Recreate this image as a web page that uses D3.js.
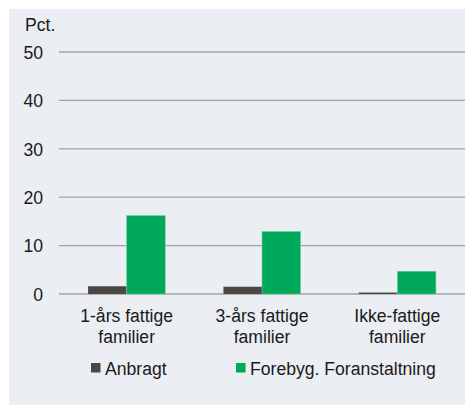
<!DOCTYPE html>
<html><head><meta charset="utf-8">
<script src="https://cdn.jsdelivr.net/npm/d3@7"></script>
<style>body{margin:0;background:#fff}svg{display:block}</style>
</head><body>
<script>
const categories = [["1-års fattige","familier"],["3-års fattige","familier"],["Ikke-fattige","familier"]];
const seriesNames = ["Anbragt","Forebyg. Foranstaltning"];
const anbragt = [1.6, 1.5, 0.3];
const forebyg = [16.2, 12.9, 4.7];
const yTicks = [0,10,20,30,40,50];
const colors = ["#4b4745","#00a85a"];

const W=465,H=405;
const FS=17.6;
const svg=d3.select("body").append("svg").attr("width",W).attr("height",H);
svg.append("rect").attr("x",9).attr("y",9).attr("width",W-9).attr("height",H-9).attr("fill","#ebeef2");

const font="Liberation Sans, Arial, Helvetica, sans-serif";
const x0=d3.scaleBand().domain(d3.range(3)).range([59,465]).paddingInner(0.43).paddingOuter(0.215);
const x1=d3.scaleBand().domain([0,1]).range([0,x0.bandwidth()]);
const y=d3.scaleLinear().domain([0,50]).range([294,52]);

svg.append("g").selectAll("line").data(yTicks).join("line")
  .attr("x1",59).attr("x2",465).attr("y1",d=>y(d)).attr("y2",d=>y(d))
  .attr("stroke","#a3a3a3").attr("stroke-width",1.3);

const yAxis=d3.axisLeft(y).tickValues(yTicks).tickSize(0).tickPadding(0);
const ga=svg.append("g").attr("transform","translate(43,0)").call(yAxis);
ga.select(".domain").remove();
ga.selectAll("text").attr("font-family",font).attr("font-size",FS).attr("fill","#1a1a1a").attr("dy","0.36em");

svg.append("text").attr("x",25).attr("y",31).text("Pct.")
  .attr("font-family",font).attr("font-size",FS).attr("fill","#1a1a1a");

const series=[anbragt,forebyg];
series.forEach((vals,si)=>{
  svg.append("g").selectAll("rect").data(vals).join("rect")
    .attr("x",(d,i)=>x0(i)+x1(si))
    .attr("width",x1.bandwidth())
    .attr("y",d=>y(d))
    .attr("height",d=>y(0)-y(d))
    .attr("fill",colors[si])
    .attr("stroke",si===1?"#6fd0a0":"none").attr("stroke-width",si===1?0.6:0);
});

const cl=svg.append("g");
categories.forEach((c,i)=>{
  const t=cl.append("text").attr("text-anchor","middle")
    .attr("font-family",font).attr("font-size",FS).attr("fill","#1a1a1a");
  c.forEach((line,j)=>t.append("tspan").attr("x",x0(i)+x0.bandwidth()/2).attr("y",321.5+j*21).text(line));
});

const legX=[91,236];
seriesNames.forEach((n,i)=>{
  svg.append("rect").attr("x",legX[i]).attr("y",363).attr("width",9.5).attr("height",9.5).attr("fill",colors[i]);
  svg.append("text").attr("x",legX[i]+14).attr("y",374.5).text(n)
    .attr("font-family",font).attr("font-size",FS).attr("fill","#1a1a1a");
});
</script>
</body></html>
